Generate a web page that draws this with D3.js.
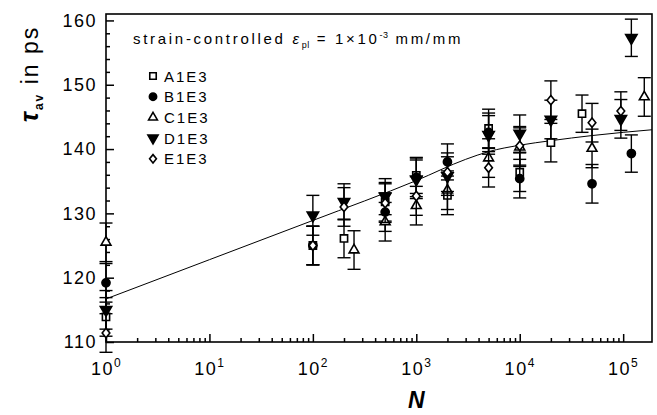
<!DOCTYPE html>
<meta charset="utf-8">

<head>
    <title>Mean positron lifetime vs cycles</title>
</head>

<style>
    body {
        margin: 0;
        background-color: #ffffff;
        font-family: "Liberation Sans", Arial, sans-serif;
    }

    .axis path {
        display: none;
    }

    .axis line {
        stroke: #000;
        stroke-width: 1.5px;
    }

    .axis text {
        font-family: "Liberation Sans", Arial, sans-serif;
        font-size: 18px;
        letter-spacing: 1.5px;
        fill: #000;
    }

    .errbar {
        stroke: #000;
        stroke-width: 1.4px;
    }

    .fit {
        fill: none;
        stroke: #000;
        stroke-width: 1px;
    }

    .legend text {
        font-size: 15px;
        letter-spacing: 2px;
    }

    .legend text.head {
        letter-spacing: 2.7px;
    }
</style>

<body>
    <svg width="657" height="415"></svg>
</body>

<script src="https://d3js.org/d3.v7.min.js"></script>

<script>
    // values
    var seriesNames = ["A1E3", "B1E3", "C1E3", "D1E3", "E1E3"];

    var nA = [1, 100, 200, 500, 1000, 2000, 5000, 10000, 20000, 40000];
    var tauA = [113.9, 125.0, 126.1, 131.8, 135.9, 132.8, 143.2, 136.4, 141.0, 145.5];
    var errA = [3.0, 3.0, 3.0, 3.0, 2.8, 3.0, 3.0, 3.0, 3.0, 2.9];

    var nB = [1, 100, 500, 1000, 2000, 5000, 10000, 50000, 120000];
    var tauB = [119.2, 125.0, 130.2, 135.6, 138.0, 142.6, 135.4, 134.6, 139.3];
    var errB = [3.0, 3.0, 3.0, 3.0, 2.8, 3.0, 3.0, 3.0, 2.9];

    var nC = [1, 250, 500, 1000, 2000, 5000, 10000, 50000, 160000];
    var tauC = [125.5, 124.3, 128.7, 131.2, 133.6, 138.6, 140.3, 140.1, 148.1];
    var errC = [3.0, 3.0, 3.0, 3.0, 3.0, 3.0, 3.0, 3.0, 3.0];

    var nD = [1, 100, 200, 500, 1000, 2000, 5000, 10000, 20000, 95000, 120000];
    var tauD = [115.0, 129.7, 131.8, 132.6, 135.3, 135.8, 142.2, 142.4, 144.6, 144.7, 157.3];
    var errD = [3.0, 3.1, 2.8, 2.8, 3.0, 3.0, 3.0, 2.9, 3.0, 3.0, 2.9];

    var nE = [1, 100, 200, 500, 1000, 2000, 5000, 10000, 20000, 50000, 95000];
    var tauE = [111.4, 125.0, 131.0, 131.6, 132.7, 136.4, 137.1, 140.5, 147.6, 144.1, 145.9];
    var errE = [3.0, 3.0, 3.0, 3.0, 3.0, 3.0, 3.0, 3.0, 3.0, 3.0, 3.0];

    // fitted curve
    var fitN = [1, 10, 100, 1000, 3000, 5000, 10000, 20000, 50000, 100000, 190000];
    var fitTau = [116.7, 122.8, 128.9, 135.1, 138.4, 139.6, 140.6, 141.3, 142.1, 142.6, 143.0];

    var yMajor = [110, 120, 130, 140, 150, 160];
    var xMajor = [1, 10, 100, 1000, 10000, 100000];

    var svg = d3.select("svg"),
        margin = {
            top: 14,
            right: 5,
            bottom: 73,
            left: 106
        },
        width = +svg.attr("width") - margin.left - margin.right,
        height = +svg.attr("height") - margin.top - margin.bottom;

    var x = d3.scaleLog()
        .domain([1, 1.9e5])
        .range([margin.left, margin.left + width]);

    var y = d3.scaleLinear()
        .domain([110, 161])
        .range([margin.top + height, margin.top]);

    var yMinor = d3.range(110, 161, 2).filter(d => d % 10 != 0);
    var xMinor = [];
    xMajor.forEach(function (p) {
        for (var k = 2; k <= 9; k++) {
            if (p * k <= 1.9e5) xMinor.push(p * k);
        }
    });

    // open diamond drawn as a square turned 45 degrees
    var symbolRhomb = {
        draw: function (ctx, size) {
            var r = Math.sqrt(size / 2);
            ctx.moveTo(0, -r * 1.1);
            ctx.lineTo(r * 0.9, 0);
            ctx.lineTo(0, r * 1.1);
            ctx.lineTo(-r * 0.9, 0);
            ctx.closePath();
        }
    };

    // y axis
    svg.append("g")
        .attr("class", "axis")
        .attr("transform", "translate(" + margin.left + ",0)")
        .call(d3.axisLeft(y).tickValues(yMinor).tickSize(-4).tickFormat(""));

    var yAx = svg.append("g")
        .attr("class", "axis")
        .attr("transform", "translate(" + margin.left + ",0)")
        .call(d3.axisLeft(y).tickValues(yMajor).tickSize(-8).tickPadding(6));
    yAx.selectAll(".tick text").attr("dx", "-3");

    // x axis
    svg.append("g")
        .attr("class", "axis")
        .attr("transform", "translate(0," + (margin.top + height) + ")")
        .call(d3.axisBottom(x).tickValues(xMinor).tickSize(-4).tickFormat(""));

    var xAx = svg.append("g")
        .attr("class", "axis")
        .attr("transform", "translate(0," + (margin.top + height) + ")")
        .call(d3.axisBottom(x).tickValues(xMajor).tickSize(-8).tickFormat(""));

    xAx.selectAll(".tick text")
        .attr("y", 33)
        .attr("dy", null)
        .attr("text-anchor", "middle")
        .each(function (d) {
            var t = d3.select(this);
            t.append("tspan").text("10");
            t.append("tspan")
                .attr("dy", -8)
                .attr("font-size", "12px")
                .text(Math.round(Math.log10(d)));
        });

    // frame
    svg.append("rect")
        .attr("x", margin.left)
        .attr("y", margin.top)
        .attr("width", width)
        .attr("height", height)
        .attr("fill", "none")
        .attr("stroke", "#000")
        .attr("stroke-width", 1.6);

    // axis titles
    var yTitle = svg.append("text")
        .attr("transform", "translate(38," + (margin.top + 60) + ") rotate(-90)")
        .attr("text-anchor", "middle")
        .attr("font-size", "23px")
        .attr("letter-spacing", "2px");
    yTitle.append("tspan").attr("font-weight", 700).attr("font-style", "italic").attr("font-size", "25px").text("\u03c4");
    yTitle.append("tspan").attr("font-weight", 700).attr("font-size", "12px").attr("dy", 5).text("av");
    yTitle.append("tspan").attr("dy", -5).text(" in ps");

    svg.append("text")
        .attr("x", x(1000))
        .attr("y", 408)
        .attr("text-anchor", "middle")
        .attr("font-size", "23px")
        .attr("font-weight", 700)
        .attr("font-style", "italic")
        .text("N");

    // fit line
    svg.append("path")
        .datum(fitN.map((n, i) => [n, fitTau[i]]))
        .attr("class", "fit")
        .attr("d", d3.line().x(d => x(d[0])).y(d => y(d[1])).curve(d3.curveMonotoneX));

    var series = [
        { name: "A1E3", n: nA, tau: tauA, err: errA, shape: d3.symbolSquare, size: 52, filled: false, rot: 0 },
        { name: "B1E3", n: nB, tau: tauB, err: errB, shape: d3.symbolCircle, size: 52, filled: true, rot: 0 },
        { name: "C1E3", n: nC, tau: tauC, err: errC, shape: d3.symbolTriangle, size: 42, filled: false, rot: 0 },
        { name: "D1E3", n: nD, tau: tauD, err: errD, shape: d3.symbolTriangle, size: 56, filled: true, rot: 180 },
        { name: "E1E3", n: nE, tau: tauE, err: errE, shape: symbolRhomb, size: 36, filled: false, rot: 0 }
    ];

    var capW = 6.5;

    series.forEach(function (s) {
        var pts = s.n.map((n, i) => ({ n: n, tau: s.tau[i], err: s.err[i] }));
        var g = svg.append("g").attr("class", "series");

        var eb = g.selectAll("g.eb")
            .data(pts)
            .enter()
            .append("g")
            .attr("class", "eb");
        eb.append("line")
            .attr("class", "errbar")
            .attr("x1", d => x(d.n)).attr("x2", d => x(d.n))
            .attr("y1", d => y(d.tau - d.err)).attr("y2", d => y(d.tau + d.err));
        eb.append("line")
            .attr("class", "errbar")
            .attr("x1", d => x(d.n) - capW).attr("x2", d => x(d.n) + capW)
            .attr("y1", d => y(d.tau + d.err)).attr("y2", d => y(d.tau + d.err));
        eb.append("line")
            .attr("class", "errbar")
            .attr("x1", d => x(d.n) - capW).attr("x2", d => x(d.n) + capW)
            .attr("y1", d => y(d.tau - d.err)).attr("y2", d => y(d.tau - d.err));

        g.selectAll("path.mark")
            .data(pts)
            .enter()
            .append("path")
            .attr("class", "mark")
            .attr("d", d3.symbol().type(s.shape).size(s.size))
            .attr("transform", d => "translate(" + x(d.n) + "," + y(d.tau) + ") rotate(" + s.rot + ")")
            .attr("fill", s.filled ? "#000" : "#fff")
            .attr("stroke", "#000")
            .attr("stroke-width", 1.6);
    });

    // legend
    var legend = svg.append("g").attr("class", "legend");

    var head = legend.append("text")
        .attr("class", "head")
        .attr("x", 133)
        .attr("y", 44);
    head.append("tspan").text("strain-controlled ");
    head.append("tspan").attr("font-style", "italic").text("\u03b5");
    head.append("tspan").attr("font-size", "9px").style("letter-spacing", "0.5px").attr("dy", 4).text("pl");
    head.append("tspan").attr("dy", -4).text(" = 1\u00d710");
    head.append("tspan").attr("font-size", "9px").style("letter-spacing", "0.5px").attr("dy", -6).text("-3");
    head.append("tspan").attr("dy", 6).text(" mm/mm");

    var rows = legend.selectAll("g.row")
        .data(series)
        .enter()
        .append("g")
        .attr("class", "row")
        .attr("transform", (d, i) => "translate(153," + (76 + i * 20.7) + ")");

    rows.append("path")
        .attr("d", d => d3.symbol().type(d.shape).size(d.size * 0.8)())
        .attr("transform", d => "rotate(" + d.rot + ")")
        .attr("fill", d => d.filled ? "#000" : "#fff")
        .attr("stroke", "#000")
        .attr("stroke-width", 1.6);

    rows.append("text")
        .attr("x", 11)
        .attr("y", 5.5)
        .text(d => d.name);
</script>
